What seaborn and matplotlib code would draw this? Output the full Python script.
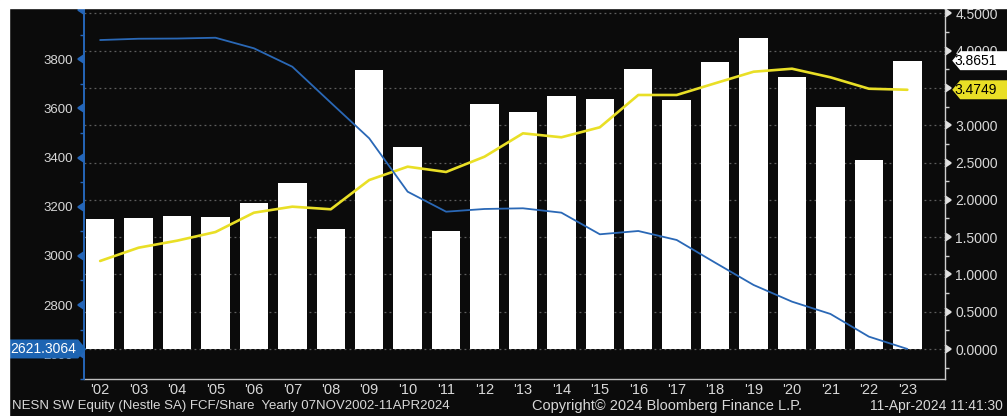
import numpy as np
import pandas as pd
import matplotlib
matplotlib.use("Agg")
import matplotlib.pyplot as plt
import seaborn as sns
from matplotlib.path import Path
from matplotlib import markers, font_manager
from matplotlib.patches import Rectangle
from matplotlib.ticker import FixedLocator, FuncFormatter

# ---------------- data ----------------
years = ["'02", "'03", "'04", "'05", "'06", "'07", "'08", "'09", "'10", "'11", "'12",
         "'13", "'14", "'15", "'16", "'17", "'18", "'19", "'20", "'21", "'22", "'23"]
fcf_per_share = [1.747, 1.760, 1.787, 1.773, 1.957, 2.229, 1.604, 3.740, 2.704, 1.577, 3.288,
                 3.173, 3.396, 3.356, 3.758, 3.342, 3.843, 4.173, 3.642, 3.240, 2.529, 3.8651]
fcf_trend = [1.180, 1.358, 1.452, 1.568, 1.827, 1.908, 1.873, 2.265, 2.444, 2.373, 2.578,
             2.891, 2.838, 2.972, 3.405, 3.405, 3.562, 3.717, 3.757, 3.642, 3.489, 3.4749]
shares_out = [3878.6, 3883.9, 3884.7, 3888.0, 3845.0, 3770.0, 3623.7, 3478.6, 3261.4, 3180.0, 3191.0,
              3193.8, 3176.0, 3088.0, 3101.4, 3064.8, 2972.5, 2881.7, 2813.8, 2763.7, 2671.4, 2621.3064]
right_ticks = [0.0, 0.5, 1.0, 1.5, 2.0, 2.5, 3.0, 3.5, 4.0, 4.5]
left_ticks = [2600, 2800, 3000, 3200, 3400, 3600, 3800, 4000]

df = pd.DataFrame({"year": years, "fcf": fcf_per_share, "trend": fcf_trend, "shares": shares_out})

# ---------------- style ----------------
BG = "#0b0b0b"
TXT = "#d8d8d8"
BLUE = "#2a68b6"
BLUE_AX = "#2566b8"
YELLOW = "#e9df26"
GRID = "#5e5e5e"

sns.set_theme(style="dark", rc={"axes.facecolor": BG, "figure.facecolor": BG,
                                "savefig.facecolor": BG})
names = {f.name for f in font_manager.fontManager.ttflist}
FONT = "Liberation Sans Narrow" if "Liberation Sans Narrow" in names else "Liberation Sans"
plt.rcParams["font.family"] = [FONT, "DejaVu Sans"]

W, H = 1007, 416
fig = plt.figure(figsize=(W / 100, H / 100), dpi=100)
ax = fig.add_axes([84 / W, 1 - 379 / H, (945 - 84) / W, (379 - 8) / H])
ax.set_facecolor(BG)

# bars + yellow line on the right-hand scale
sns.barplot(data=df, x="year", y="fcf", ax=ax, color="white", saturation=1,
            width=0.74, linewidth=0, zorder=2)
sns.lineplot(data=df, x="year", y="trend", ax=ax, color=YELLOW, linewidth=1.9,
             zorder=3, sort=False)

ax2 = ax.twinx()
sns.lineplot(data=df, x="year", y="shares", ax=ax2, color=BLUE, linewidth=1.3,
             zorder=4, sort=False)

# axes limits
ax.set_xlim(-0.42, 21.98)
ax.set_ylim(-0.402, 4.571)
ax2.set_ylim(2499, 4009)

# right scale (primary axis)
ax.yaxis.tick_right()
ax.yaxis.set_label_position("right")
ax.set_yticks(right_ticks)
ax.yaxis.set_major_formatter(FuncFormatter(lambda v, p: f"{v:.4f}"))
ax.yaxis.set_minor_locator(FixedLocator(np.arange(-0.25, 4.6, 0.25)))
ax.tick_params(axis="y", which="major", colors=TXT, labelsize=10, length=4.5, pad=2.8,
               direction="out", right=True, left=False, labelright=True, labelleft=False)
ax.tick_params(axis="y", which="minor", colors="#cfcfcf", length=3, width=1,
               right=True, left=False)
ax.set_xlabel("")
ax.set_ylabel("")
ax2.set_ylabel("")

# x axis
ax.set_xticks(range(len(years)))
ax.set_xticklabels(years)
ax.xaxis.set_minor_locator(FixedLocator(np.arange(1, len(years), 2)))
ax.tick_params(axis="x", which="both", length=0, colors=TXT, labelsize=10.5, pad=3)

# grid (dotted)
ax.grid(False)
ax.set_axisbelow(True)
ax.yaxis.grid(True, which="major", color=GRID, linestyle=(0, (1.5, 2.5)), linewidth=0.9)
ax.xaxis.grid(True, which="minor", color=GRID, linestyle=(0, (1.5, 2.5)), linewidth=0.9)
ax.xaxis.grid(False, which="major")
ax2.grid(False)

# left scale (twin axis)
ax2.yaxis.tick_left()
ax2.set_yticks(left_ticks)
ax2.yaxis.set_major_formatter(FuncFormatter(lambda v, p: "" if v >= 4000 else f"{v:.0f}"))
ax2.yaxis.set_minor_locator(FixedLocator(np.arange(2500, 4001, 100)))
ax2.tick_params(axis="y", which="major", colors=TXT, labelsize=9.5, length=4.5, pad=3.5,
                direction="out", left=True, right=False, labelleft=True, labelright=False)
ax2.tick_params(axis="y", which="minor", colors=BLUE_AX, length=3, width=1,
                left=True, right=False)

# spines
for s in ["top", "left"]:
    ax.spines[s].set_visible(False)
ax.spines["right"].set_color("#cfcfcf")
ax.spines["right"].set_linewidth(1.0)
ax.spines["bottom"].set_color("#bdbdbd")
ax.spines["bottom"].set_linewidth(1.0)
for s in ["top", "right", "bottom"]:
    ax2.spines[s].set_visible(False)
ax2.spines["left"].set_color(BLUE_AX)
ax2.spines["left"].set_linewidth(1.4)


# tag shaped boxes for the last values
def tag_box(direction):
    def style(x0, y0, width, height, mutation_size):
        pad = 0.18 * mutation_size
        x0, y0 = x0 - pad, y0 - pad
        w, h = width + 2 * pad, height + 2 * pad
        tip = 0.42 * h
        yc = y0 + h / 2
        if direction == "left":
            w += 12
            verts = [(x0, yc), (x0 + tip, y0), (x0 + w, y0), (x0 + w, y0 + h),
                     (x0 + tip, y0 + h), (x0, yc)]
        else:
            verts = [(x0, y0), (x0 + w, y0), (x0 + w + tip, yc), (x0 + w, y0 + h),
                     (x0, y0 + h), (x0, y0)]
        return Path(verts, closed=True)
    return style


TAG_FS = 10
ax.annotate(f"{fcf_per_share[-1]:.4f}", xy=(1, fcf_per_share[-1]),
            xycoords=ax.get_yaxis_transform(), xytext=(7, 0), textcoords="offset points",
            ha="left", va="center", fontsize=TAG_FS, color="black", annotation_clip=False,
            bbox=dict(boxstyle=tag_box("left"), fc="white", ec="none"), zorder=10)
ax.annotate(f"{fcf_trend[-1]:.4f}", xy=(1, fcf_trend[-1]),
            xycoords=ax.get_yaxis_transform(), xytext=(7, 0), textcoords="offset points",
            ha="left", va="center", fontsize=TAG_FS, color="black", annotation_clip=False,
            bbox=dict(boxstyle=tag_box("left"), fc=YELLOW, ec="none"), zorder=10)
ax2.annotate(f"{shares_out[-1]:.4f}", xy=(0, shares_out[-1]),
             xycoords=ax2.get_yaxis_transform(), xytext=(-6, 0), textcoords="offset points",
             ha="right", va="center", fontsize=TAG_FS, color="white", annotation_clip=False,
             bbox=dict(boxstyle=tag_box("right"), fc="#1d64b2", ec="none"), zorder=10)

# footer texts
fig.text(12 / W, 1 - 406 / H, "NESN SW Equity (Nestle SA) FCF/Share  Yearly 07NOV2002-11APR2024",
         ha="left", va="center", fontsize=9.5, color=TXT)
fig.text(532 / W, 1 - 406 / H, "Copyright\u00a9 2024 Bloomberg Finance L.P.",
         ha="left", va="center", fontsize=10.5, color=TXT)
fig.text(1003 / W, 1 - 406 / H, "11-Apr-2024 11:41:30",
         ha="right", va="center", fontsize=10, color=TXT)

# white crop strips at the top and left edges
fig.patches.append(Rectangle((0, 1 - 8 / H), 1, 8 / H, transform=fig.transFigure,
                             color="white", zorder=20))
fig.patches.append(Rectangle((0, 0), 9 / W, 1, transform=fig.transFigure,
                             color="white", zorder=20))

# triangle-shaped major tick marks (set last)
for t in ax.yaxis.get_major_ticks():
    t.tick2line.set_marker(markers.CARETRIGHTBASE)
    t.tick2line.set_markersize(6)
    t.tick2line.set_markerfacecolor("#e0e0e0")
    t.tick2line.set_markeredgecolor("#e0e0e0")
for t in ax2.yaxis.get_major_ticks():
    t.tick1line.set_marker(markers.CARETLEFTBASE)
    t.tick1line.set_markersize(6)
    t.tick1line.set_markerfacecolor(BLUE_AX)
    t.tick1line.set_markeredgecolor(BLUE_AX)

fig.savefig("out.png", dpi=100, facecolor=BG)
